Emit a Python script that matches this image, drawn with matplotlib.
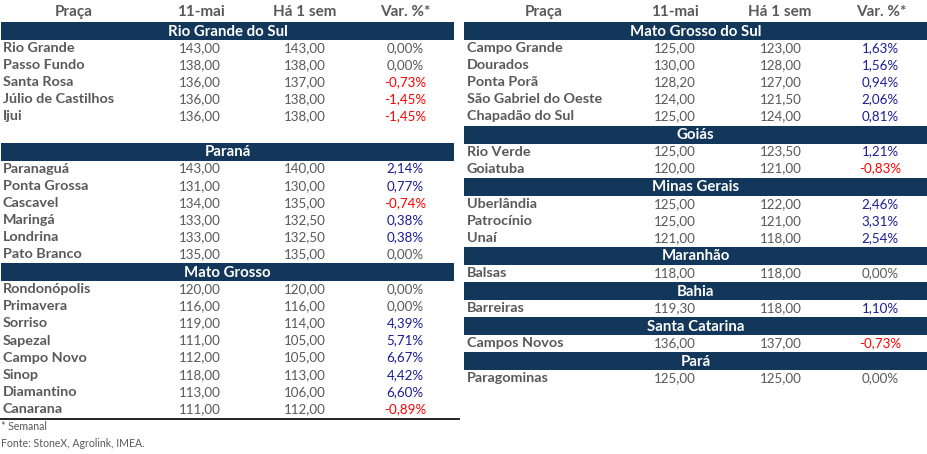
import matplotlib
matplotlib.use("Agg")
import matplotlib.pyplot as plt
from matplotlib.patches import Rectangle

# ---------------- data ----------------
col_headers = ["Praça", "11-mai", "Há 1 sem", "Var. %*"]

rs_names = ["Rio Grande", "Passo Fundo", "Santa Rosa", "Júlio de Castilhos", "Ijui"]
rs_now = [143.00, 138.00, 136.00, 136.00, 136.00]
rs_prev = [143.00, 138.00, 137.00, 138.00, 138.00]
rs_var = [0.00, 0.00, -0.73, -1.45, -1.45]

pr_names = ["Paranaguá", "Ponta Grossa", "Cascavel", "Maringá", "Londrina", "Pato Branco"]
pr_now = [143.00, 131.00, 134.00, 133.00, 133.00, 135.00]
pr_prev = [140.00, 130.00, 135.00, 132.50, 132.50, 135.00]
pr_var = [2.14, 0.77, -0.74, 0.38, 0.38, 0.00]

mt_names = ["Rondonópolis", "Primavera", "Sorriso", "Sapezal", "Campo Novo", "Sinop",
            "Diamantino", "Canarana"]
mt_now = [120.00, 116.00, 119.00, 111.00, 112.00, 118.00, 113.00, 111.00]
mt_prev = [120.00, 116.00, 114.00, 105.00, 105.00, 113.00, 106.00, 112.00]
mt_var = [0.00, 0.00, 4.39, 5.71, 6.67, 4.42, 6.60, -0.89]

ms_names = ["Campo Grande", "Dourados", "Ponta Porã", "São Gabriel do Oeste", "Chapadão do Sul"]
ms_now = [125.00, 130.00, 128.20, 124.00, 125.00]
ms_prev = [123.00, 128.00, 127.00, 121.50, 124.00]
ms_var = [1.63, 1.56, 0.94, 2.06, 0.81]

go_names = ["Rio Verde", "Goiatuba"]
go_now = [125.00, 120.00]
go_prev = [123.50, 121.00]
go_var = [1.21, -0.83]

mg_names = ["Uberlândia", "Patrocínio", "Unaí"]
mg_now = [125.00, 125.00, 121.00]
mg_prev = [122.00, 121.00, 118.00]
mg_var = [2.46, 3.31, 2.54]

ma_names = ["Balsas"]
ma_now = [118.00]
ma_prev = [118.00]
ma_var = [0.00]

ba_names = ["Barreiras"]
ba_now = [119.30]
ba_prev = [118.00]
ba_var = [1.10]

sc_names = ["Campos Novos"]
sc_now = [136.00]
sc_prev = [137.00]
sc_var = [-0.73]

pa_names = ["Paragominas"]
pa_now = [125.00]
pa_prev = [125.00]
pa_var = [0.00]

footnotes = ["* Semanal", "Fonte: StoneX, Agrolink, IMEA."]

left_groups = [
    ("Rio Grande do Sul", rs_names, rs_now, rs_prev, rs_var, 1),
    ("Paraná", pr_names, pr_now, pr_prev, pr_var, 0),
    ("Mato Grosso", mt_names, mt_now, mt_prev, mt_var, 0),
]
right_groups = [
    ("Mato Grosso do Sul", ms_names, ms_now, ms_prev, ms_var, 0),
    ("Goiás", go_names, go_now, go_prev, go_var, 0),
    ("Minas Gerais", mg_names, mg_now, mg_prev, mg_var, 0),
    ("Maranhão", ma_names, ma_now, ma_prev, ma_var, 0),
    ("Bahia", ba_names, ba_now, ba_prev, ba_var, 0),
    ("Santa Catarina", sc_names, sc_now, sc_prev, sc_var, 0),
    ("Pará", pa_names, pa_now, pa_prev, pa_var, 0),
]

# ---------------- style ----------------
FONT = "Lato"
GRAY = "#595959"
BAND = "#13375b"
POS = "#1c1c96"
NEG = "#ff0000"
W, H = 928, 454
BAND_H = 18.0
ROW_H = 17.1
TOP = 22.0

fig = plt.figure(figsize=(W / 100, H / 100), dpi=100)
ax = fig.add_axes([0, 0, 1, 1])
ax.set_xlim(0, W)
ax.set_ylim(H, 0)
ax.axis("off")


def fmt_num(v):
    return f"{v:.2f}".replace(".", ",")


def fmt_pct(v):
    return f"{v:.2f}%".replace(".", ",")


def draw_table(groups, x0, x1, name_x, col_x, header_x):
    for txt, hx in zip(col_headers, header_x):
        ax.text(hx, 16, txt, ha="center", va="baseline", fontsize=11,
                fontweight="bold", color=GRAY, family=FONT)
    y = TOP
    for title, names, now, prev, var, gap in groups:
        ax.add_patch(Rectangle((x0, y), x1 - x0, BAND_H, color=BAND, lw=0))
        ax.text((x0 + x1) / 2, y + 13.5, title, ha="center", va="baseline",
                fontsize=10.8, fontweight="bold", color="white", family=FONT)
        y += BAND_H
        for n, a, b, v in zip(names, now, prev, var):
            base = y + 12
            ax.text(name_x, base, n, ha="left", va="baseline", fontsize=10.4,
                    fontweight="bold", color=GRAY, family=FONT)
            ax.text(col_x[0], base, fmt_num(a), ha="center", va="baseline",
                    fontsize=9.6, color=GRAY, family=FONT)
            ax.text(col_x[1], base, fmt_num(b), ha="center", va="baseline",
                    fontsize=9.6, color=GRAY, family=FONT)
            c = POS if v > 0 else (NEG if v < 0 else GRAY)
            ax.text(col_x[2], base, fmt_pct(v), ha="center", va="baseline",
                    fontsize=9.6, color=c, family=FONT)
            y += ROW_H
        y += gap * ROW_H
    return y


yl = draw_table(left_groups, 1, 454, 3, [200, 305, 405], [74, 201, 305, 405])
draw_table(right_groups, 464, 927, 467, [675, 781, 880], [544, 675, 780, 881])

ax.plot([0, 460], [yl + 1, yl + 1], color="black", lw=1.2, solid_capstyle="butt")
ax.text(1, yl + 12, footnotes[0], ha="left", va="baseline", fontsize=7.6,
        color=GRAY, family=FONT)
ax.text(1, yl + 29, footnotes[1], ha="left", va="baseline", fontsize=7.6,
        color=GRAY, family=FONT)

fig.savefig("out.png", dpi=100)
